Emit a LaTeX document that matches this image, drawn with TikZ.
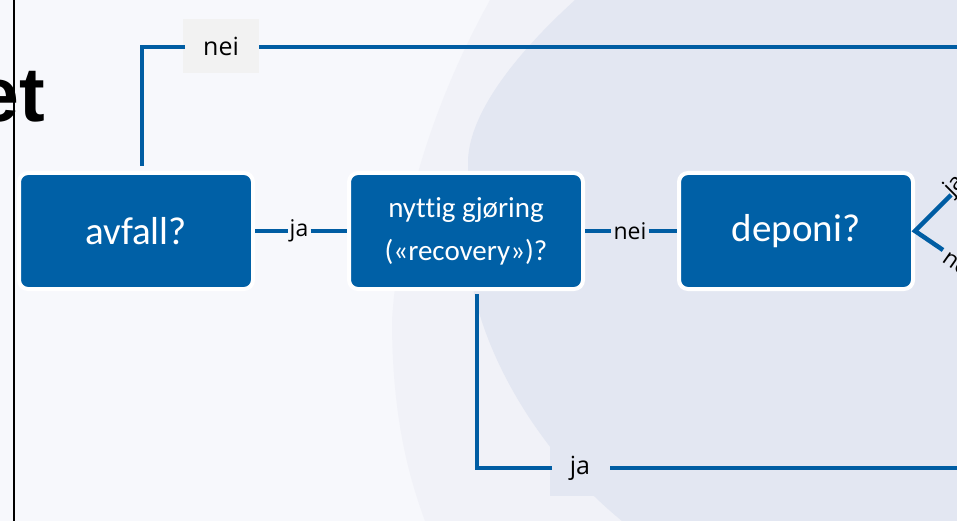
\documentclass[tikz,border=0pt]{standalone}
\usepackage{fontspec}
\setmainfont{Carlito}[Ligatures={NoCommon}]
\newfontfamily\labfont{Open Sans}
\newfontfamily\headfont{Liberation Sans}
\definecolor{boxblue}{HTML}{0060A6}
\definecolor{lineblue}{HTML}{005DA3}
\definecolor{bgwhite}{HTML}{F7F8FC}
\definecolor{bgmid}{HTML}{F1F2F8}
\definecolor{lav}{HTML}{E3E7F2}
\definecolor{tagrey}{HTML}{F2F2F2}
\tikzset{
  qbox/.style={rectangle, rounded corners=9pt, fill=boxblue, draw=white, line width=4pt,
    minimum width=234pt, minimum height=116pt, text=white, align=center, inner sep=0pt},
  conn/.style={draw=lineblue, line width=4.5pt},
  lbl/.style={inner sep=2pt, font=\labfont\fontsize{23}{27}\selectfont, text=black},
  tag/.style={inner sep=0pt, font=\labfont\fontsize{25}{29}\selectfont, text=black}
}
\begin{document}
\begin{tikzpicture}[x=1pt,y=-1pt]
\useasboundingbox (0,0) rectangle (957,521);
\clip (0,0) rectangle (957,521);
% background
\fill[bgwhite] (0,0) rectangle (957,521);
\fill[bgmid] (490,0) .. controls (440,90) and (400,200) .. (392,320)
  .. controls (392,420) and (410,480) .. (425,521) -- (957,521) -- (957,0) -- cycle;
\fill[lav] (575,0) .. controls (520,50) and (470,110) .. (468,160) -- (468,250)
  .. controls (472,340) and (535,450) .. (622,521) -- (957,521) -- (957,0) -- cycle;
% left title fragment and rule
\node[anchor=base east, inner sep=0pt, font=\headfont\bfseries\fontsize{77}{80}\selectfont] (title) at (45,122) {et};
\draw[black, line width=2pt] (14,0) -- (14,521);
% boxes
\node[qbox, font=\fontsize{39}{47}\selectfont] (b1) at (136,231) {avfall?};
\node[qbox, font=\fontsize{29}{43}\selectfont] (b2) at (466,231) {nyttig gjøring\\(«recovery»)?};
\node[qbox, font=\fontsize{39}{47}\selectfont] (b3) at (796,231) {deponi?};
% labels between boxes
\node[lbl] (j1) at (299,231) {ja};
\node[lbl] (n1) at (630,231) {nei};
\draw[conn] (b1.east) -- (j1.west);
\draw[conn] (j1.east) -- (b2.west);
\draw[conn] (b2.east) -- (n1.west);
\draw[conn] (n1.east) -- (b3.west);
% top "nei" path
\node[tag, fill=tagrey, minimum width=76pt, minimum height=54pt] (tn) at (221,46) {nei};
\coordinate (a1) at (142,164);
\coordinate (a2) at (142,47);
\coordinate (a3) at (962,47);
\draw[conn, line cap=rect] (a1) -- (a2) -- (a2 -| tn.west);
\draw[conn] (tn.east |- a3) -- (a3);
% bottom "ja" path
\node[tag, fill=lav, minimum width=60pt, minimum height=55pt] (bj) at (580,468.5) {ja};
\coordinate (c1) at (477,296);
\coordinate (c2) at (477,468);
\coordinate (c3) at (962,468);
\draw[conn, line cap=rect] (c1) -- (c2) -- (c2 -| bj.west);
\draw[conn] (bj.east |- c3) -- (c3);
% right fork
\coordinate (u1) at (951,195);
\coordinate (l1) at (943,250);
\draw[conn] (u1) -- (b3.east) -- (l1);
\node[lbl, anchor=west, rotate=45] (fj) at (947,194) {ja};
\node[lbl, anchor=west, rotate=-35] (fn) at (944,253) {nei};
\end{tikzpicture}
\end{document}
